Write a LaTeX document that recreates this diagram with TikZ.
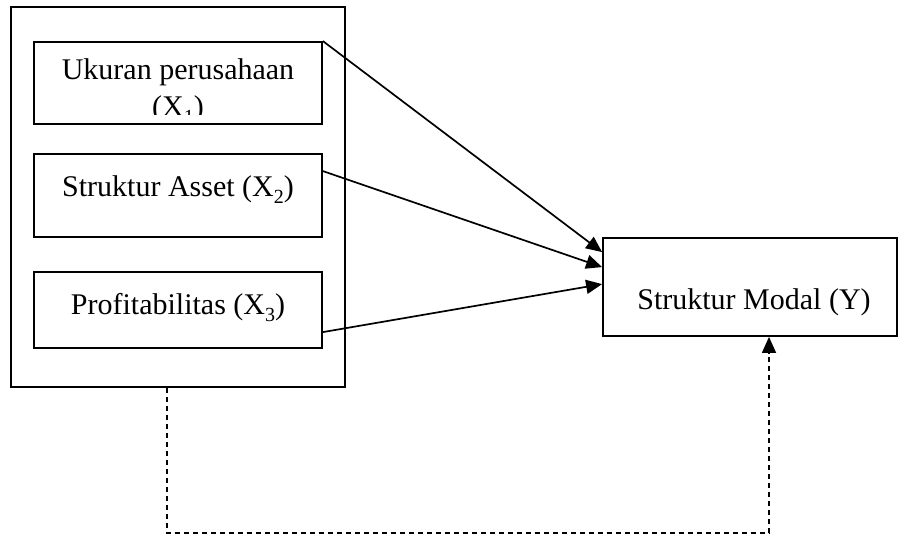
\documentclass[tikz,border=0pt]{standalone}
\usepackage{fontspec}
\setmainfont{Liberation Serif}
\usetikzlibrary{arrows.meta}
\newcommand\subx[1]{\raisebox{-0.22em}{\fontsize{20}{20}\selectfont #1}}
\begin{document}
\begin{tikzpicture}[x=1pt,y=-1pt,
  box/.style={draw,line width=1.8pt,inner sep=0pt},
  lbl/.style={inner sep=0pt,anchor=base,font=\fontsize{30}{34}\selectfont},
  arr/.style={line width=1.7pt,-{Triangle[length=16pt,width=14pt]}},
  darr/.style={line width=1.4pt,dash pattern=on 5pt off 4pt,-{Triangle[length=16pt,width=14pt]}}]
\useasboundingbox (0,0) rectangle (900,537);
% outer group box
\node[box,minimum width=334pt,minimum height=380pt] (outer) at (178,197) {};
% inner boxes
\node[box,minimum width=288pt,minimum height=82pt] (x1) at (178,83) {};
\node[box,minimum width=288pt,minimum height=83pt] (x2) at (178,195.5) {};
\node[box,minimum width=288pt,minimum height=76pt] (x3) at (178,310) {};
\node[box,minimum width=294pt,minimum height=98pt] (y) at (750,287) {};
% labels
\begin{scope}
  \clip (34,42) rectangle (322,115);
  \node[lbl] (t1a) at (178,80) {Ukuran perusahaan};
  \node[lbl] (t1b) at (178,117) {(X\subx{1})};
\end{scope}
\node[lbl] (t2) at (178,197) {Struktur Asset (X\subx{2})};
\node[lbl] (t3) at (178,315) {Profitabilitas (X\subx{3})};
\node[lbl] (ty) at (754,310) {Struktur Modal (Y)};
% arrows
\coordinate (e1) at ([yshift=-15pt]y.north west);
\coordinate (e2) at ([yshift=-30pt]y.north west);
\coordinate (e3) at ([yshift=-47pt]y.north west);
\draw[arr] (x1.north east) -- (e1);
\draw[arr] ([yshift=-18pt]x2.north east) -- (e2);
\draw[arr] ([yshift=-61pt]x3.north east) -- (e3);
% dashed feedback
\coordinate (d1) at (167,533);
\coordinate (d2) at (769,533);
\draw[darr] (outer.south -| d1) -- (d1) -- (d2) -- (y.south -| d2);
\end{tikzpicture}
\end{document}
